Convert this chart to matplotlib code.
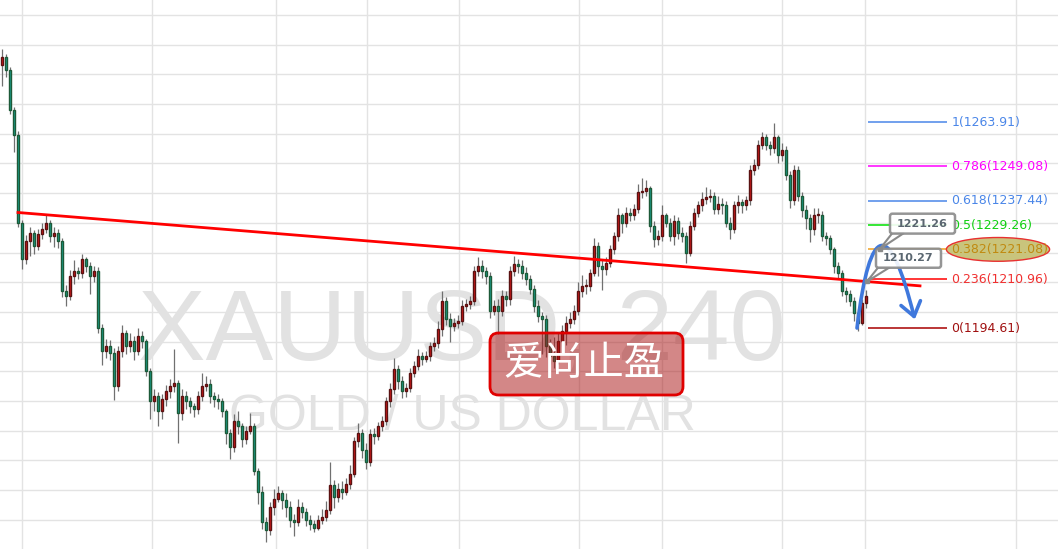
import numpy as np
import matplotlib
matplotlib.use('Agg')
from matplotlib import pyplot as plt
from matplotlib.patches import FancyBboxPatch, Ellipse, FancyArrowPatch, Polygon
from matplotlib.path import Path

plt.rcParams['font.family'] = ['DejaVu Sans', 'Noto Sans CJK SC']

# XAUUSD 4h candles, open = previous close
first_open = 1283.0
closes = [
    1285.9, 1281.5, 1268.0, 1259.5, 1230.1, 1217.9, 1224.0, 1226.7, 1222.3, 1226.4,
    1228.1, 1230.1, 1225.7, 1226.7, 1224.0, 1207.1, 1205.4, 1212.2, 1213.9, 1213.2,
    1217.9, 1215.6, 1212.2, 1213.9, 1194.6, 1186.9, 1188.5, 1186.2, 1175.0, 1186.9,
    1192.9, 1188.5, 1190.2, 1186.9, 1191.9, 1190.2, 1180.1, 1169.9, 1171.6, 1166.6,
    1170.6, 1173.3, 1175.0, 1176.0, 1165.9, 1171.6, 1169.9, 1168.3, 1167.2, 1171.6,
    1175.0, 1175.7, 1171.6, 1170.6, 1169.9, 1166.6, 1159.1, 1154.7, 1163.2, 1161.5,
    1157.1, 1159.8, 1161.5, 1146.3, 1139.5, 1129.4, 1126.7, 1134.5, 1137.2, 1138.9,
    1136.8, 1134.5, 1130.1, 1129.4, 1134.5, 1132.8, 1130.1, 1128.7, 1127.4, 1130.1,
    1131.1, 1133.4, 1141.9, 1137.8, 1140.5, 1139.5, 1142.2, 1145.6, 1156.4, 1159.1,
    1153.7, 1149.6, 1158.8, 1158.1, 1161.5, 1163.2, 1169.9, 1174.0, 1180.8, 1176.7,
    1173.3, 1174.3, 1179.4, 1181.8, 1185.2, 1184.1, 1185.2, 1188.5, 1189.6, 1194.3,
    1203.8, 1197.7, 1195.3, 1196.3, 1197.0, 1202.1, 1202.7, 1203.8, 1213.9, 1215.6,
    1213.9, 1212.2, 1200.4, 1202.1, 1200.4, 1205.4, 1204.4, 1213.9, 1216.3, 1215.6,
    1213.2, 1211.2, 1207.8, 1202.1, 1198.7, 1197.7, 1188.5, 1185.2, 1183.5, 1190.2,
    1193.6, 1196.3, 1197.7, 1200.4, 1207.1, 1208.8, 1208.8, 1213.2, 1222.3, 1215.6,
    1214.6, 1216.6, 1221.3, 1225.7, 1232.5, 1230.1, 1233.5, 1232.5, 1234.8, 1240.3,
    1240.9, 1241.6, 1229.1, 1224.7, 1225.7, 1232.5, 1230.1, 1225.7, 1230.8, 1226.7,
    1225.7, 1220.0, 1229.1, 1233.5, 1235.9, 1238.2, 1238.6, 1239.2, 1234.8, 1236.5,
    1235.9, 1230.1, 1228.1, 1235.9, 1236.9, 1235.9, 1237.6, 1247.7, 1249.4, 1256.2,
    1258.8, 1256.2, 1255.1, 1258.8, 1252.8, 1254.5, 1246.0, 1237.6, 1247.7, 1239.2,
    1234.2, 1231.5, 1228.1, 1232.5, 1232.8, 1225.7, 1225.0, 1221.3, 1215.6, 1213.2,
    1207.1, 1206.1, 1203.8, 1199.7, 1196.3, 1203.1, 1205.4,
]
highs = [
    1288.5, 1287.0, 1282.5, 1269.0, 1261.0, 1231.0, 1226.0, 1228.5, 1227.5, 1228.0,
    1230.0, 1232.5, 1231.0, 1228.5, 1228.0, 1225.0, 1209.0, 1214.0, 1217.5, 1215.0,
    1219.5, 1218.5, 1217.0, 1215.5, 1215.0, 1196.0, 1191.0, 1190.5, 1188.0, 1188.5,
    1195.5, 1194.0, 1193.0, 1192.0, 1194.5, 1193.5, 1191.0, 1181.0, 1174.0, 1173.0,
    1172.5, 1175.5, 1177.5, 1187.5, 1177.0, 1174.0, 1173.5, 1171.5, 1169.5, 1173.5,
    1179.5, 1178.5, 1177.5, 1173.0, 1172.5, 1171.0, 1167.5, 1160.5, 1165.5, 1166.5,
    1162.5, 1161.5, 1166.0, 1162.5, 1147.5, 1141.5, 1131.0, 1136.0, 1140.5, 1141.5,
    1140.0, 1139.0, 1136.5, 1132.0, 1137.0, 1136.0, 1134.0, 1131.5, 1130.0, 1131.5,
    1133.5, 1136.5, 1149.5, 1143.5, 1142.5, 1143.0, 1144.0, 1148.5, 1158.0, 1162.5,
    1160.5, 1156.0, 1160.5, 1161.0, 1163.0, 1165.0, 1171.5, 1176.0, 1184.5, 1182.0,
    1178.5, 1176.0, 1181.0, 1183.5, 1187.5, 1186.5, 1187.0, 1190.0, 1191.5, 1197.0,
    1207.0, 1205.0, 1199.5, 1198.0, 1199.0, 1204.0, 1204.5, 1205.5, 1215.5, 1218.5,
    1217.5, 1215.0, 1213.5, 1204.0, 1204.5, 1207.5, 1207.0, 1215.5, 1219.0, 1218.0,
    1217.5, 1215.0, 1212.5, 1209.0, 1204.0, 1200.0, 1199.0, 1191.0, 1191.5, 1193.0,
    1195.5, 1198.5, 1200.0, 1202.5, 1210.0, 1212.5, 1211.0, 1214.5, 1225.0, 1223.5,
    1217.5, 1218.5, 1222.5, 1227.0, 1235.0, 1233.5, 1235.5, 1235.0, 1236.5, 1243.0,
    1245.0, 1244.5, 1242.5, 1230.5, 1227.5, 1236.0, 1233.5, 1231.5, 1232.5, 1232.0,
    1228.5, 1227.0, 1230.5, 1235.0, 1237.5, 1240.5, 1242.0, 1241.5, 1240.5, 1239.0,
    1238.5, 1237.5, 1232.0, 1237.5, 1239.5, 1238.0, 1239.0, 1249.5, 1251.5, 1258.0,
    1260.5, 1260.0, 1257.5, 1263.5, 1259.5, 1257.0, 1256.0, 1247.5, 1249.5, 1249.0,
    1240.5, 1236.0, 1233.0, 1235.0, 1235.0, 1234.0, 1227.0, 1226.0, 1222.0, 1217.0,
    1214.0, 1208.5, 1207.5, 1205.0, 1201.0, 1204.5, 1207.5,
]
lows = [
    1276.0, 1279.0, 1266.5, 1254.0, 1228.5, 1214.5, 1216.0, 1219.0, 1219.5, 1221.0,
    1224.5, 1226.5, 1223.5, 1222.0, 1221.5, 1205.0, 1202.0, 1204.0, 1209.5, 1211.0,
    1211.5, 1213.5, 1206.0, 1210.0, 1193.0, 1182.0, 1184.5, 1184.0, 1170.5, 1173.5,
    1185.0, 1186.0, 1186.5, 1184.0, 1185.5, 1188.0, 1178.5, 1164.0, 1166.5, 1161.5,
    1164.0, 1168.5, 1171.0, 1173.0, 1156.0, 1163.5, 1167.5, 1166.0, 1164.5, 1165.5,
    1170.0, 1173.5, 1169.5, 1168.0, 1167.5, 1164.5, 1155.5, 1150.5, 1153.0, 1159.0,
    1154.5, 1155.5, 1159.0, 1145.0, 1135.5, 1127.0, 1122.5, 1125.0, 1131.5, 1136.0,
    1133.5, 1131.0, 1127.5, 1124.5, 1128.0, 1130.5, 1128.0, 1126.5, 1126.0, 1126.5,
    1128.5, 1129.5, 1132.0, 1134.0, 1136.0, 1137.0, 1138.5, 1140.5, 1144.5, 1154.5,
    1151.0, 1147.0, 1148.0, 1155.5, 1157.0, 1160.0, 1162.0, 1168.0, 1172.5, 1174.0,
    1171.0, 1171.5, 1173.0, 1178.0, 1180.5, 1182.0, 1183.0, 1183.5, 1187.0, 1188.0,
    1192.0, 1195.5, 1190.0, 1193.5, 1194.5, 1195.5, 1200.5, 1201.0, 1202.5, 1212.0,
    1211.5, 1209.5, 1198.0, 1199.0, 1192.5, 1198.5, 1202.0, 1202.5, 1212.0, 1213.0,
    1211.0, 1209.0, 1206.0, 1200.0, 1196.5, 1186.0, 1185.0, 1182.5, 1181.0, 1182.5,
    1188.5, 1189.0, 1194.5, 1196.0, 1199.0, 1205.0, 1206.0, 1207.0, 1212.0, 1212.0,
    1207.5, 1212.5, 1215.0, 1219.5, 1224.0, 1226.5, 1228.5, 1230.5, 1231.0, 1233.5,
    1238.5, 1239.0, 1227.0, 1222.0, 1222.5, 1224.0, 1228.5, 1224.0, 1222.5, 1224.5,
    1223.5, 1216.5, 1219.0, 1227.5, 1232.0, 1234.0, 1236.5, 1237.0, 1233.0, 1233.0,
    1233.0, 1228.5, 1224.5, 1226.5, 1233.5, 1233.5, 1234.5, 1236.0, 1246.0, 1248.0,
    1255.0, 1254.5, 1253.0, 1253.5, 1250.0, 1251.0, 1244.5, 1235.0, 1236.0, 1237.5,
    1232.0, 1228.0, 1223.5, 1226.0, 1230.0, 1224.0, 1222.5, 1219.5, 1213.0, 1211.5,
    1205.5, 1203.5, 1202.0, 1197.0, 1193.5, 1195.5, 1201.5,
]
assert len(closes) == len(highs) == len(lows)

# fibonacci retracement
fib_ratios = ['0', '0.236', '0.382', '0.5', '0.618', '0.786', '1', '1.618']
fib_prices = [1194.61, 1210.96, 1221.08, 1229.26, 1237.44, 1249.08, 1263.91, 1306.74]
fib_line_colors = ['#a80000', '#ff0000', '#f0a020', '#00e000', '#4a86e8', '#ff00ff', '#4a86e8', '#0000ff']
fib_text_colors = ['#a01010', '#f03030', '#c08a10', '#10d010', '#4a86e8', '#ff00ff', '#4a86e8', '#1a1aff']

# trend line (candle index, price)
trend_x = [4, 229.5]
trend_y = [1233.5, 1208.8]

# projected path labels
callout_x = [219.5, 216.25]
callout_y = [1221.26, 1210.27]

day_breaks = [5, 37.5, 68.5, 91.25, 114.25, 144.25, 165, 195, 215.75, 253.5]

fig = plt.figure(figsize=(10.58, 5.49), dpi=100)
ax = fig.add_axes([0, 0, 1, 1])
ax.set_xlim(-0.5, 264.0)
ax.set_ylim(1120.2, 1305.05)
ax.set_yticks(np.arange(1130, 1301, 10))
ax.set_xticks(day_breaks)
ax.grid(True, color='#e3e3e3', lw=1)
ax.set_axisbelow(True)
ax.tick_params(length=0, labelbottom=False, labelleft=False)
for s in ax.spines.values():
    s.set_visible(False)

# watermark
ax.text(0.437, 1 - 360 / 549, 'XAUUSD, 240', transform=ax.transAxes, ha='center', va='baseline',
        fontsize=73, color='#e2e2e2', family='Liberation Sans', zorder=1)
ax.text(0.437, 1 - 430 / 549, 'GOLD / US DOLLAR', transform=ax.transAxes, ha='center', va='baseline',
        fontsize=36, color='#e2e2e2', family='Liberation Sans', zorder=1)

# candles
c = np.array(closes)
o = np.array([first_open] + closes[:-1])
h = np.maximum(np.array(highs), np.maximum(o, c))
l = np.minimum(np.array(lows), np.minimum(o, c))
idx = np.arange(len(c))
up = c >= o
ax.vlines(idx, l, h, color='#707070', lw=0.9, zorder=3)
bottom = np.minimum(o, c)
height = np.maximum(np.abs(c - o), 0.35)
ax.bar(idx[up], height[up], 0.72, bottom[up], color='#e21a1a', edgecolor='#5a1212', lw=1.0, zorder=4)
ax.bar(idx[~up], height[~up], 0.72, bottom[~up], color='#17a595', edgecolor='#1d5a38', lw=1.0, zorder=4)

# trend line
ax.plot(trend_x, trend_y, color='#ff0000', lw=2, zorder=6)

# fib lines and labels
ax.hlines(fib_prices, 216.5, 236.25, colors=fib_line_colors, lw=1.1, zorder=5)
ax.add_patch(Ellipse((249.0, fib_prices[2]), 25.8, 8.0, facecolor='#c9c47c', edgecolor='#e83030',
                     lw=1, zorder=6))
for r, p, col in zip(fib_ratios, fib_prices, fib_text_colors):
    ax.text(237.3, p, f'{r}({p:.2f})', va='center', ha='left', fontsize=9, color=col,
            zorder=7, clip_on=False)

# projected move: up to the 0.382 level, then down
verts = [(213.75, 1194.6), (217.0, 1231.0), (222.0, 1231.0), (228.2, 1197.5)]
path = Path(verts, [Path.MOVETO, Path.CURVE4, Path.CURVE4, Path.CURVE4])
ax.add_patch(FancyArrowPatch(path=path, arrowstyle='->,head_length=0.55,head_width=0.4',
                             mutation_scale=18, color='#3f78dc', lw=2.6, zorder=8))

# callout boxes
boxes = [(222.0, 1226.4, 16.25, 6.7), (218.5, 1214.9, 16.25, 6.4)]
for (bx, by, bw, bh), px, py in zip(boxes, callout_x, callout_y):
    ax.add_patch(Polygon([(bx + 0.6, by + 0.2), (bx + 3.5, by + 0.2), (px, py)], closed=True,
                         facecolor='white', edgecolor='#8a8a8a', lw=1.5, zorder=9))
    ax.add_patch(FancyBboxPatch((bx, by), bw, bh, boxstyle='round,pad=0,rounding_size=0.6',
                                mutation_aspect=1.35, facecolor='white', edgecolor='#8a8a8a',
                                lw=1.8, alpha=0.9, zorder=9))
    ax.text(bx + bw / 2, by + bh / 2, f'{py:.2f}', ha='center', va='center', fontsize=8,
            fontweight='bold', color='#5a6670', zorder=10)
    ax.plot(px, py, 's', ms=3.5, color='#8a8a8a', zorder=10)

# red label box
ax.add_patch(FancyBboxPatch((490 / 1058, 1 - 395 / 549), 193 / 1058, 62 / 549,
                            boxstyle='round,pad=0,rounding_size=0.008', mutation_aspect=1058 / 549,
                            transform=ax.transAxes, facecolor='#a81010', alpha=0.5,
                            edgecolor='none', zorder=11))
ax.add_patch(FancyBboxPatch((490 / 1058, 1 - 395 / 549), 193 / 1058, 62 / 549,
                            boxstyle='round,pad=0,rounding_size=0.008', mutation_aspect=1058 / 549,
                            transform=ax.transAxes, facecolor='none', edgecolor='#e00000',
                            lw=2, zorder=12))
ax.text(584 / 1058, 1 - 364 / 549, '爱尚止盈', transform=ax.transAxes, ha='center', va='center',
        fontsize=29, color='white', family=['Noto Sans CJK SC'], zorder=13)

plt.savefig('out.png', dpi=100)
